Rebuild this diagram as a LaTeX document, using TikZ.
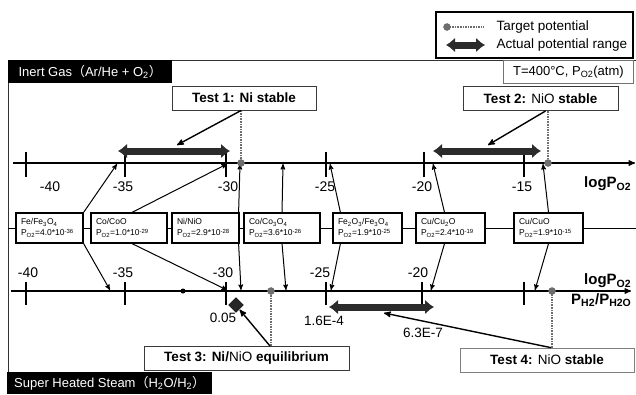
\documentclass[tikz,border=0pt]{standalone}
\usepackage{fontspec}
\setmainfont{Liberation Sans}
\newfontfamily\cjkfont{Noto Sans CJK JP}
\usepackage{tikz}
\usetikzlibrary{arrows,arrows.meta,shapes.geometric}
\tikzset{>=stealth'}
\definecolor{tgt}{HTML}{6E6E6E}
\definecolor{rng}{HTML}{2B2B2B}
\definecolor{edge}{HTML}{3A3A3A}
\newcommand{\fs}[1]{\fontsize{#1}{#1}\selectfont}
\newcommand{\Po}{P\textsubscript{O2}}
\tikzset{
  oxbox/.style={draw=black,line width=1.2pt,fill=white,align=left,inner xsep=5pt,
    inner ysep=0pt,minimum height=30pt,font=\fontsize{8.5}{11}\selectfont},
  testbox/.style={draw=edge,line width=1pt,fill=white,minimum height=24pt,
    inner sep=0pt,font=\fs{13.5}\bfseries},
  ticklbl/.style={font=\fs{14},inner sep=0pt},
  axname/.style={font=\fs{15}\bfseries,anchor=west,inner sep=0pt},
  potrange/.style={line width=7pt,rng,{Latex[length=9pt,width=15pt]}-{Latex[length=9pt,width=15pt]}},
  tline/.style={densely dotted,line width=1.6pt,tgt},
  tdot/.style={circle,fill=tgt,draw=black!60,inner sep=0pt,minimum size=7pt},
  feed/.style={->,line width=1pt},
  pointer/.style={->,line width=1.4pt},
  banner/.style={fill=black,text=white,font=\fs{13},inner sep=0pt,minimum height=23pt},
}

\begin{document}
\begin{tikzpicture}[x=1pt,y=-1pt]
\useasboundingbox (0,0) rectangle (636,394);
% legend
\draw[line width=1.2pt] (436,12) rectangle (633,58);
\coordinate (lgdot) at (447,27);
\coordinate (lgend) at (484,27);
\draw[tline] (lgdot) -- (lgend);
\node[tdot] (lgd) at (lgdot) {};
\draw[potrange] (446,45) -- (485,45);
\node[anchor=west,font=\fs{13.5}] (lgt) at (493,27) {Target potential};
\node[anchor=west,font=\fs{13.5}] (lgr) at (493,45) {Actual potential range};
% frame and banners
\draw[line width=1pt,black!80] (8,394) -- (8,60) -- (636,60);
\node[banner,anchor=north west,minimum width=164pt] (inert) at (8,60)
  {Inert Gas{\cjkfont （}Ar/He + O\textsubscript{2}{\cjkfont ）}};
\node[draw=black!55,line width=0.8pt,anchor=north west,minimum width=130pt,
  minimum height=23pt,inner sep=0pt,font=\fs{13}] (cond) at (503,60) {T=400°C, \Po(atm)};
\node[banner,anchor=south west,minimum width=205pt,minimum height=22pt] (steam) at (7,394)
  {Super Heated Steam{\cjkfont （}H\textsubscript{2}O/H\textsubscript{2}{\cjkfont ）}};
% test boxes
\node[testbox,minimum width=144pt] (t1) at (244,98) {Test 1: Ni stable};
\node[testbox,minimum width=155pt] (t2) at (540.5,98.5) {Test 2: \textmd{NiO} stable};
\node[testbox,minimum width=205pt] (t3) at (246.5,358.5) {Test 3: Ni/\textmd{NiO} equilibrium};
\node[testbox,draw=black!50,line width=0.7pt,minimum width=174pt] (t4) at (547,360)
  {Test 4: \textmd{NiO} stable};
% upper axis (inert gas)
\draw[->,line width=1.3pt] (13,163) -- (635,163);
\foreach \x/\v/\lx in {26/40/50,125/35/123,226/30/228,326/25/325,424/20/422,524/15/522}{
  \draw[line width=1.3pt] (\x,152) -- (\x,177);
  \node[ticklbl] (up\v) at (\lx,187) {-\v};
}
\node[axname] (ulog) at (584,184) {logP\textsubscript{O2}};
% lower axis (steam)
\draw[->,line width=1.3pt] (11,291) -- (631,291);
\foreach \x/\v/\lx in {26/40/28,125/35/123,226/30/223,326/25/320,422/20/418}{
  \draw[line width=1.3pt] (\x,282) -- (\x,305);
  \node[ticklbl] (lo\v) at (\lx,273) {-\v};
}
\draw[line width=1.3pt] (524,282) -- (524,305);
\node[axname] (llog) at (584,281) {logP\textsubscript{O2}};
\node[axname] (lrat) at (571,300) {P\textsubscript{H2}/P\textsubscript{H2O}};
% where the equilibria land on both axes
\foreach \n/\ux/\lx in {Fe/117/110,Co/227/227,Ni/240/241,Coc/283/286,Fe2/330/331,Cu2/433/431,Cuo/543/535}{
  \coordinate (u\n) at (\ux,164);
  \coordinate (l\n) at (\lx,290);
}
% equilibrium boxes
\draw[line width=0.8pt] (8,228) -- (636,228);
\node[oxbox,text width=57pt] (fe) at (49.5,228) {Fe/Fe\textsubscript{3}O\textsubscript{4}\\\Po=4.0*10\textsuperscript{-36}};
\node[oxbox,text width=66pt] (co) at (129,228) {Co/CoO\\\Po=1.0*10\textsuperscript{-29}};
\node[oxbox,text width=57pt] (ni) at (205.5,228) {Ni/NiO\\\Po=2.9*10\textsuperscript{-28}};
\node[oxbox,text width=66pt] (coc) at (282,228) {Co/Co\textsubscript{3}O\textsubscript{4}\\\Po=3.6*10\textsuperscript{-26}};
\node[oxbox,text width=59pt] (fe2) at (367.5,228) {Fe\textsubscript{2}O\textsubscript{3}/Fe\textsubscript{3}O\textsubscript{4}\\\Po=1.9*10\textsuperscript{-25}};
\node[oxbox,text width=59pt] (cu2) at (450.5,228) {Cu/Cu\textsubscript{2}O\\\Po=2.4*10\textsuperscript{-19}};
\node[oxbox,text width=59pt] (cuo) at (548.5,228) {Cu/CuO\\\Po=1.9*10\textsuperscript{-15}};
\draw[feed] (fe.north east) -- (uFe);
\draw[feed] (fe.south east) -- (lFe);
\draw[feed] ([xshift=3pt]co.north) -- (uCo);
\draw[feed] ([xshift=3pt]co.south) -- (lCo);
\draw[feed] ([xshift=-1pt]ni.north east) -- (uNi);
\draw[feed] ([xshift=-1pt]ni.south east) -- (lNi);
\draw[feed] (coc.north) -- (uCoc);
\draw[feed] (coc.south) -- (lCoc);
\draw[feed] ([xshift=8pt]fe2.north west) -- (uFe2);
\draw[feed] ([xshift=8pt]fe2.south west) -- (lFe2);
\draw[feed] ([xshift=-6pt]cu2.north) -- (uCu2);
\draw[feed] ([xshift=-6pt]cu2.south) -- (lCu2);
\draw[feed] (cuo.north) -- (uCuo);
\draw[feed] (cuo.south) -- (lCuo);
% actual ranges
\draw[potrange] (118,151) -- (230,151);
\draw[potrange] (433,151) -- (541,151);
\draw[potrange] (329,307) -- (434,307);
% targets
\coordinate (tg1) at (241,163);
\coordinate (tg2) at (548,163);
\coordinate (tg3) at (271,291);
\coordinate (tg4) at (552,291);
\draw[tline] (tg1 |- t1.south) -- (tg1);
\draw[tline] (tg2 |- t2.south) -- (tg2);
\draw[tline] (tg3 |- t3.north) -- (tg3);
\draw[tline] (tg4 |- t4.north) -- (tg4);
\node[tdot] (d1) at (tg1) {};
\node[tdot] (d2) at (tg2) {};
\node[tdot] (d3) at (tg3) {};
\node[tdot] (d4) at (tg4) {};
\node[circle,fill=black,inner sep=0pt,minimum size=5pt] (ldot) at (183,291) {};
\node[diamond,fill=black!85,draw=black,inner sep=0pt,minimum size=15pt] (dia) at (236,305) {};
% ratio labels
\node[font=\fs{13.5}] (lbl05) at (223,318) {0.05};
\node[font=\fs{13.5}] (lbl16) at (324,321) {1.6E-4};
\node[font=\fs{13.5}] (lbl63) at (423,333) {6.3E-7};
% pointers from the tests
\coordinate (r1hit) at (177,145);
\coordinate (r2hit) at (488,145);
\coordinate (r3hit) at (384,313);
\draw[pointer] (tg1 |- t1.south) -- (r1hit);
\draw[pointer] ([xshift=5pt]t2.south) -- (r2hit);
\draw[pointer] ([xshift=23.5pt]t3.north) -- (lbl05.north east);
\draw[pointer] ([xshift=4pt]t4.north) -- (r3hit);
\end{tikzpicture}
\end{document}
